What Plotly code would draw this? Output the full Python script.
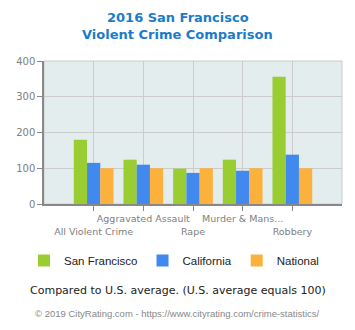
import plotly.graph_objects as go

categories = ["All Violent Crime", "Aggravated Assault", "Rape", "Murder & Mans...", "Robbery"]
san_francisco = [180, 124, 99, 124, 356]
california = [115, 110, 87, 93, 138]
national = [100, 100, 100, 100, 100]
y_ticks = [0, 100, 200, 300, 400]

xs = list(range(len(categories)))
ticktext = [("<br>" + c) if i % 2 == 0 else c for i, c in enumerate(categories)]

fig = go.Figure()
fig.add_bar(x=xs, y=san_francisco, name="San Francisco", marker_color="#9acd32", marker_line_width=0)
fig.add_bar(x=xs, y=california, name="California", marker_color="#4189ee", marker_line_width=0)
fig.add_bar(x=xs, y=national, name="National", marker_color="#fbb13c", marker_line_width=0)

plot_top, plot_bottom = 61, 204
plot_left, plot_right = 44, 342


def py2paper(py):
    return (plot_bottom - py) / (plot_bottom - plot_top)


def px2paper(px):
    return (px - plot_left) / (plot_right - plot_left)


cx = px2paper(177.5)

fig.update_layout(
    width=355, height=330,
    margin=dict(l=44, r=13, t=61, b=126),
    paper_bgcolor="white",
    plot_bgcolor="#e3eded",
    barmode="group", bargap=0.2, bargroupgap=0,
    showlegend=True,
    legend=dict(orientation="h", x=px2paper(174), xanchor="center", y=py2paper(246), yanchor="top",
                font=dict(family="Liberation Sans", size=11.5, color="#222"),
                itemwidth=30, traceorder="normal", tracegroupgap=0),
    xaxis=dict(range=[-1, 5], tickmode="array", tickvals=xs, ticktext=ticktext,
               showgrid=True, gridcolor="#cccccc", gridwidth=1,
               showline=True, linecolor="#888888", linewidth=1.5,
               ticks="outside", ticklen=5, tickcolor="#888888",
               tickfont=dict(family="DejaVu Sans", size=9.5, color="#808080"),
               tickangle=0, mirror=False, zeroline=False),
    yaxis=dict(range=[0, 400], tickmode="array", tickvals=y_ticks,
               showgrid=True, gridcolor="#cccccc", gridwidth=1,
               showline=True, linecolor="#888888", linewidth=1.5,
               ticks="outside", ticklen=5, tickcolor="#888888",
               tickfont=dict(family="DejaVu Sans", size=10, color="#808080"),
               zeroline=False),
    annotations=[
        dict(text="<b>2016 San Francisco</b>", x=cx, xref="paper",
             y=py2paper(17), yref="paper", showarrow=False, xanchor="center", yanchor="middle",
             font=dict(family="DejaVu Sans", size=13, color="#1a7cc9")),
        dict(text="<b>Violent Crime Comparison</b>", x=cx, xref="paper",
             y=py2paper(34), yref="paper", showarrow=False, xanchor="center", yanchor="middle",
             font=dict(family="DejaVu Sans", size=13, color="#1a7cc9")),
        dict(text="Compared to U.S. average. (U.S. average equals 100)", x=cx, xref="paper",
             y=py2paper(290), yref="paper", showarrow=False, xanchor="center", yanchor="middle",
             font=dict(family="DejaVu Sans", size=11, color="#222")),
        dict(text="© 2019 CityRating.com - https://www.cityrating.com/crime-statistics/", x=cx, xref="paper",
             y=py2paper(313), yref="paper", showarrow=False, xanchor="center", yanchor="middle",
             font=dict(family="Liberation Sans", size=9.5, color="#888888")),
    ],
)

fig.add_shape(type="rect", xref="paper", yref="paper", x0=0, x1=1, y0=0, y1=1,
              line=dict(color="#cccccc", width=1), layer="below")

fig.write_html("out.html")
